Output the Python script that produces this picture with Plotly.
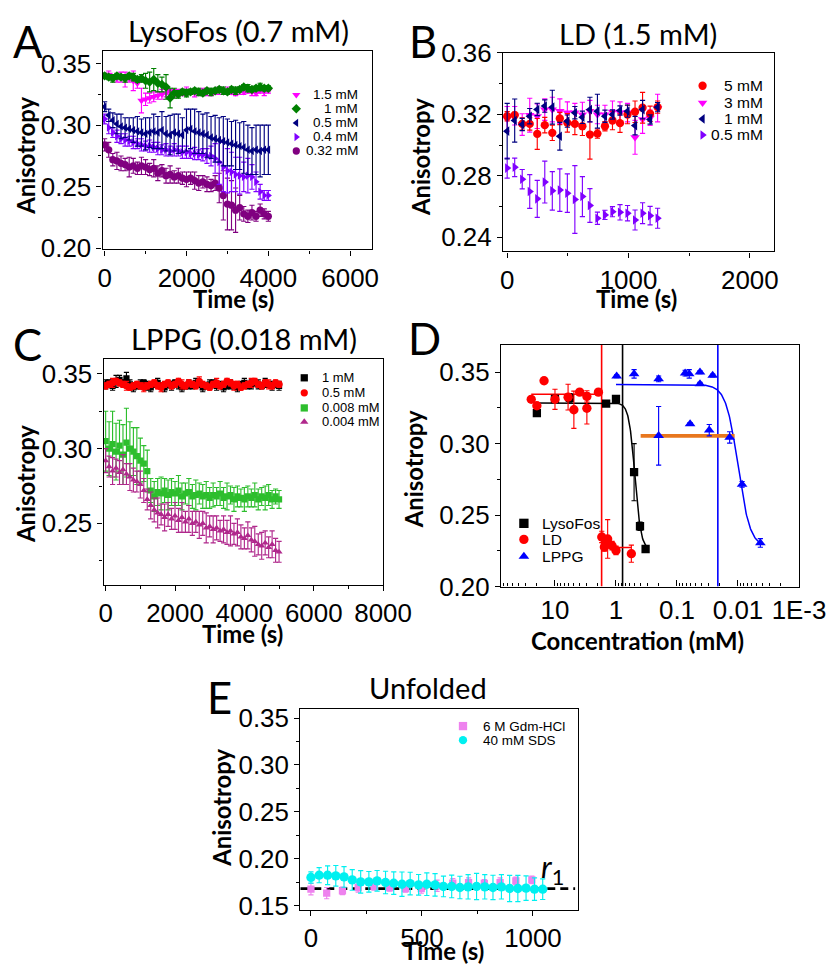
import numpy as np
import plotly.graph_objects as go

W, H = 828, 966

# ---------------- Panel A : LysoFos (0.7 mM) ----------------
A_TIME = list(range(0, 4100, 100))
A_LABELS = ["1.5 mM", "1 mM", "0.5 mM", "0.4 mM", "0.32 mM"]
A_15 = [0.340, 0.341, 0.339, 0.338, 0.339, 0.337, 0.338, 0.336, 0.334,
        0.320, 0.321, 0.322, 0.323, 0.324, 0.325, 0.326,
        0.327, 0.326, 0.327, 0.326, 0.328, 0.327, 0.326, 0.327, 0.328, 0.327,
        0.326, 0.327, 0.328, 0.327, 0.328, 0.327, 0.326, 0.328, 0.327, 0.328,
        0.327, 0.326, 0.328, 0.327, 0.328]
A_15_ERR = [0.002, 0.003, 0.002, 0.003, 0.004, 0.006, 0.003, 0.008, 0.004,
            0.010, 0.005, 0.004, 0.004, 0.003, 0.004, 0.003,
            0.002, 0.003, 0.002, 0.002, 0.003, 0.002, 0.003, 0.002, 0.002, 0.003,
            0.002, 0.002, 0.003, 0.002, 0.003, 0.002, 0.002, 0.003, 0.002, 0.002,
            0.003, 0.002, 0.002, 0.003, 0.002]
A_1 = [0.340, 0.339, 0.338, 0.340, 0.339, 0.338, 0.340, 0.339, 0.337, 0.338,
       0.336, 0.335, 0.337, 0.334, 0.333, 0.331,
       0.322, 0.326,
       0.325, 0.327, 0.326, 0.327, 0.328, 0.327, 0.326, 0.328, 0.327, 0.328,
       0.329, 0.328, 0.327, 0.329, 0.328, 0.329, 0.331, 0.330, 0.329, 0.330,
       0.331, 0.330, 0.330]
A_1_ERR = [0.002, 0.002, 0.003, 0.002, 0.002, 0.003, 0.002, 0.003, 0.002, 0.003,
           0.006, 0.008, 0.009, 0.007, 0.006, 0.010,
           0.008, 0.004,
           0.003, 0.002, 0.003, 0.002, 0.002, 0.003, 0.002, 0.002, 0.003, 0.002,
           0.002, 0.003, 0.002, 0.002, 0.003, 0.002, 0.002, 0.003, 0.002, 0.002,
           0.003, 0.002, 0.002]
A_05 = [0.315, 0.308, 0.304, 0.301, 0.299, 0.298, 0.297, 0.296, 0.295, 0.294,
        0.293, 0.294, 0.295, 0.294, 0.296, 0.293, 0.292, 0.294, 0.293, 0.292,
        0.296, 0.297, 0.295, 0.294, 0.293, 0.292, 0.290, 0.289, 0.288, 0.287,
        0.286, 0.285, 0.284, 0.283, 0.282, 0.280, 0.279, 0.280, 0.279, 0.280,
        0.280]
A_05_ERR = [0.004, 0.005, 0.006, 0.008, 0.010, 0.008, 0.009, 0.010, 0.012, 0.011,
            0.013, 0.012, 0.014, 0.013, 0.015, 0.014, 0.016, 0.015, 0.016, 0.014,
            0.017, 0.016, 0.018, 0.017, 0.016, 0.018, 0.017, 0.019, 0.018, 0.020,
            0.019, 0.018, 0.020, 0.019, 0.021, 0.020, 0.019, 0.020, 0.021, 0.020,
            0.020]
A_04 = [0.305, 0.298, 0.294, 0.291, 0.289, 0.288, 0.287, 0.286, 0.285, 0.284,
        0.283, 0.283, 0.282, 0.281, 0.280, 0.280, 0.279, 0.280, 0.279, 0.278,
        0.278, 0.277, 0.277, 0.276, 0.276, 0.275, 0.275, 0.273, 0.270, 0.266,
        0.263, 0.262, 0.260, 0.259, 0.258, 0.259, 0.258, 0.254, 0.246, 0.243,
        0.243]
A_04_ERR = [0.004, 0.005, 0.004, 0.005, 0.004, 0.005, 0.004, 0.005, 0.004, 0.005,
            0.004, 0.005, 0.004, 0.005, 0.004, 0.005, 0.004, 0.005, 0.004, 0.005,
            0.005, 0.004, 0.005, 0.004, 0.005, 0.006, 0.008, 0.012, 0.018, 0.020,
            0.018, 0.016, 0.014, 0.015, 0.012, 0.014, 0.010, 0.008, 0.006, 0.004,
            0.004]
A_032 = [0.284, 0.280, 0.272, 0.271, 0.269, 0.268, 0.266, 0.267, 0.265, 0.267,
         0.266, 0.264, 0.265, 0.261, 0.263, 0.259, 0.260, 0.258, 0.259, 0.257,
         0.256, 0.257, 0.255, 0.253, 0.254, 0.252, 0.251, 0.253, 0.249, 0.243,
         0.236, 0.235, 0.231, 0.233, 0.228, 0.226, 0.229, 0.226, 0.231, 0.228,
         0.226]
A_032_ERR = [0.005, 0.006, 0.005, 0.007, 0.006, 0.005, 0.008, 0.006, 0.005, 0.007,
             0.006, 0.005, 0.007, 0.006, 0.005, 0.006, 0.007, 0.005, 0.006, 0.005,
             0.006, 0.005, 0.007, 0.006, 0.005, 0.006, 0.005, 0.006, 0.012, 0.020,
             0.021, 0.020, 0.018, 0.010, 0.006, 0.005, 0.006, 0.004, 0.005, 0.004,
             0.004]

# ---------------- Panel B : LD (1.5 mM) ----------------
B_TIME = list(range(0, 1241, 62))
B_LABELS = ["5 mM", "3 mM", "1 mM", "0.5 mM"]
B_5 = [0.3187, 0.3194, 0.3137, 0.3137, 0.3072, 0.3129, 0.3079, 0.3172, 0.3144, 0.3137,
       0.3122, 0.3068, 0.3074, 0.3122, 0.3159, 0.3142, 0.3198, 0.3216, 0.3242, 0.3203, 0.3246]
B_5_ERR = [0.003, 0.002, 0.004, 0.004, 0.010, 0.005, 0.005, 0.004, 0.006, 0.007,
           0.006, 0.016, 0.003, 0.003, 0.006, 0.006, 0.006, 0.007, 0.010, 0.005, 0.004]
B_3 = [0.317, 0.319, 0.3133, 0.3194, 0.3187, 0.323, 0.323, 0.322, 0.321, 0.321,
       0.3198, 0.322, 0.3198, 0.3198, 0.3216, 0.321, 0.321, 0.305, 0.3166, 0.3177, 0.324]
B_3_ERR = [0.008, 0.006, 0.007, 0.011, 0.008, 0.007, 0.008, 0.008, 0.007, 0.006,
           0.008, 0.007, 0.006, 0.006, 0.007, 0.007, 0.006, 0.011, 0.009, 0.005, 0.009]
B_1 = [0.309, 0.3159, 0.3133, 0.3187, 0.3231, 0.3253, 0.3246, 0.3057, 0.3155, 0.321,
       0.318, 0.323, 0.322, 0.3187, 0.3198, 0.3224, 0.322, 0.3126, 0.323, 0.3166, 0.3246]
B_1_ERR = [0.018, 0.014, 0.004, 0.005, 0.004, 0.004, 0.011, 0.009, 0.004, 0.004,
           0.004, 0.008, 0.011, 0.004, 0.003, 0.003, 0.004, 0.006, 0.006, 0.003, 0.003]
B_05 = [0.2850, 0.2855, 0.2778, 0.2698, 0.2650, 0.2759, 0.2702, 0.2707, 0.2687, 0.2646,
        0.2665, 0.2607, 0.2524, 0.2546, 0.2567, 0.2563, 0.2557, 0.2513, 0.2557, 0.2541, 0.2524]
B_05_ERR = [0.0065, 0.006, 0.0063, 0.011, 0.012, 0.0136, 0.0125, 0.0138, 0.0125, 0.022,
            0.013, 0.011, 0.004, 0.003, 0.0033, 0.005, 0.005, 0.0065, 0.0068, 0.006, 0.0065]

# ---------------- Panel C : LPPG (0.018 mM) ----------------
C_TIME = list(range(0, 5100, 100))
C_LABELS = ["1 mM", "0.5 mM", "0.008 mM", "0.004 mM"]
C_1 = [0.343, 0.344, 0.342, 0.345, 0.346, 0.344, 0.347, 0.343, 0.341, 0.342,
       0.343, 0.344, 0.342, 0.341, 0.343, 0.344, 0.342, 0.341, 0.343, 0.342,
       0.344, 0.343, 0.341, 0.342, 0.343, 0.342, 0.344, 0.343, 0.341, 0.342,
       0.343, 0.344, 0.342, 0.343, 0.341, 0.342, 0.343, 0.342, 0.341, 0.343,
       0.344, 0.342, 0.343, 0.344, 0.343, 0.342, 0.344, 0.343, 0.342, 0.343, 0.342]
C_1_ERR = [0.003, 0.002, 0.003, 0.004, 0.003, 0.002, 0.004, 0.003, 0.003, 0.002,
           0.003, 0.002, 0.003, 0.003, 0.002, 0.003, 0.002, 0.003, 0.002, 0.003,
           0.002, 0.003, 0.003, 0.002, 0.003, 0.002, 0.003, 0.002, 0.003, 0.002,
           0.003, 0.002, 0.003, 0.002, 0.003, 0.002, 0.003, 0.002, 0.003, 0.002,
           0.003, 0.002, 0.003, 0.002, 0.003, 0.002, 0.003, 0.002, 0.003, 0.002, 0.003]
C_05 = [0.342, 0.343, 0.344, 0.345, 0.344, 0.343, 0.342, 0.341, 0.342, 0.343,
        0.342, 0.341, 0.342, 0.343, 0.344, 0.342, 0.341, 0.343, 0.344, 0.342,
        0.343, 0.345, 0.343, 0.342, 0.344, 0.343, 0.342, 0.345, 0.343, 0.342,
        0.341, 0.343, 0.344, 0.342, 0.343, 0.345, 0.344, 0.342, 0.343, 0.341,
        0.342, 0.343, 0.344, 0.345, 0.343, 0.342, 0.344, 0.343, 0.342, 0.344, 0.343]
C_05_ERR = [0.002, 0.002, 0.003, 0.002, 0.002, 0.002, 0.003, 0.002, 0.002, 0.002,
            0.002, 0.003, 0.002, 0.002, 0.002, 0.002, 0.003, 0.002, 0.002, 0.002,
            0.002, 0.002, 0.003, 0.002, 0.002, 0.002, 0.002, 0.003, 0.002, 0.002,
            0.002, 0.002, 0.003, 0.002, 0.002, 0.002, 0.002, 0.003, 0.002, 0.002,
            0.002, 0.002, 0.003, 0.002, 0.002, 0.002, 0.002, 0.003, 0.002, 0.002, 0.002]
C_0008 = [0.305, 0.300, 0.303, 0.298, 0.302, 0.296, 0.304, 0.300, 0.298, 0.295,
          0.292, 0.290, 0.285, 0.272, 0.268, 0.271, 0.270, 0.272, 0.269, 0.271,
          0.270, 0.272, 0.268, 0.270, 0.271, 0.268, 0.269, 0.270, 0.268, 0.269,
          0.267, 0.269, 0.268, 0.270, 0.267, 0.268, 0.269, 0.266, 0.268, 0.267,
          0.266, 0.268, 0.267, 0.269, 0.266, 0.268, 0.267, 0.269, 0.266, 0.268, 0.266]
C_0008_ERR = [0.020, 0.018, 0.022, 0.019, 0.017, 0.020, 0.023, 0.018, 0.016, 0.019,
              0.015, 0.012, 0.014,
              0.008, 0.010, 0.009, 0.011, 0.008, 0.010, 0.009, 0.008, 0.010, 0.009,
              0.007, 0.009, 0.008, 0.010, 0.007, 0.008, 0.009, 0.007, 0.008, 0.006,
              0.008, 0.007, 0.009, 0.006, 0.008, 0.007, 0.006, 0.008, 0.007, 0.006,
              0.008, 0.007, 0.006, 0.008, 0.007, 0.006, 0.005, 0.006]
C_0004 = [0.292, 0.288, 0.285, 0.287, 0.284, 0.286, 0.283, 0.281, 0.279, 0.278,
          0.276, 0.272, 0.266, 0.262, 0.259, 0.257, 0.256, 0.254, 0.256, 0.253,
          0.255, 0.252, 0.254, 0.251, 0.253, 0.250, 0.251, 0.249, 0.250, 0.247,
          0.248, 0.246, 0.247, 0.245, 0.246, 0.244, 0.245, 0.243, 0.244, 0.241,
          0.240, 0.242, 0.239, 0.238, 0.236, 0.235, 0.237, 0.234, 0.236, 0.232, 0.231]
C_0004_ERR = [0.008, 0.007, 0.009, 0.006, 0.008, 0.010, 0.007, 0.009, 0.008, 0.007,
              0.009, 0.008, 0.007, 0.009, 0.008, 0.010, 0.007, 0.009, 0.008, 0.007,
              0.009, 0.008, 0.010, 0.007, 0.009, 0.008, 0.007, 0.009, 0.008, 0.010,
              0.007, 0.009, 0.008, 0.007, 0.009, 0.008, 0.010, 0.007, 0.009, 0.008,
              0.007, 0.009, 0.008, 0.010, 0.007, 0.009, 0.008, 0.007, 0.009, 0.008, 0.007]

# ---------------- Panel D : anisotropy vs concentration ----------------
D_LABELS = ["LysoFos", "LD", "LPPG"]
D_LYSO_C = [19.8, 10.0, 5.7, 1.45, 1.0, 0.505, 0.404, 0.327]
D_LYSO_R = [0.3214, 0.3312, 0.332, 0.328, 0.3312, 0.280, 0.2422, 0.2263]
D_LYSO_ERR = [0.001, 0.002, 0.003, 0.001, 0.001, 0.020, 0.003, 0.002]
D_LD_C = [24.5, 19.8, 15.1, 10.0, 6.1, 4.9, 3.94, 3.0, 3.0, 1.94,
          1.71, 1.55, 1.45, 1.37, 1.16, 1.0, 0.56]
D_LD_R = [0.331, 0.3265, 0.344, 0.331, 0.3325, 0.3237, 0.336, 0.333, 0.3247, 0.336,
          0.2347, 0.2277, 0.2305, 0.2333, 0.2286, 0.2253, 0.223]
D_LD_ERR = [0.001, 0.001, 0.002, 0.007, 0.009, 0.013, 0.001, 0.004, 0.011, 0.001,
            0.004, 0.003, 0.003, 0.0135, 0.003, 0.003, 0.006]
D_LPPG_C = [0.975, 0.505, 0.2, 0.2, 0.0735, 0.063, 0.061, 0.042, 0.042, 0.0296,
            0.026, 0.0137, 0.00857, 0.0043]
D_LPPG_R = [0.3472, 0.3488, 0.3453, 0.3055, 0.3493, 0.3488, 0.3137, 0.350, 0.3418, 0.3094,
            0.3477, 0.3043, 0.2715, 0.2305]
D_LPPG_ERR = [0.001, 0.003, 0.002, 0.0205, 0.002, 0.003, 0.001, 0.001, 0.001, 0.004,
              0.001, 0.004, 0.002, 0.003]
# fitted sigmoid parameters (log10 concentration)
LYSO_FIT = dict(hi=0.3285, lo=0.226, mid=-0.31, w=0.05, start=1.297, end=-0.49)
LPPG_FIT = dict(hi=0.3413, lo=0.2275, mid=-2.0, w=0.1, start=0.0, end=-2.38)
LD_FIT_HIGH, LD_FIT_LOW = 0.3345, 0.2274
LD_FIT_C = [24.5, 1.72, 0.56]
LPPG_MID_LEVEL = 0.3054
LPPG_MID_C = [0.394, 0.01135]
CMC_LD, CMC_LYSO, CMC_LPPG = 1.72, 0.78, 0.0214

# ---------------- Panel E : unfolded ----------------
E_LABELS = ["6 M Gdm-HCl", "40 mM SDS"]
E_GDM_T = [0, 71, 142, 213, 284, 355, 426, 497, 568, 639, 710, 781, 852, 923, 995]
E_GDM = [0.1677, 0.1635, 0.1659, 0.1695, 0.1706, 0.1695, 0.1684, 0.1684, 0.1713, 0.1741,
         0.1748, 0.1738, 0.1748, 0.1766, 0.1776]
E_GDM_ERR = [0.006, 0.006, 0.004, 0.005, 0.004, 0.004, 0.004, 0.005, 0.006, 0.005,
             0.005, 0.004, 0.005, 0.004, 0.004]
E_SDS_T = [0, 37, 75, 112, 149, 186, 224, 261, 298, 336, 373, 410, 447, 485, 522,
           559, 597, 634, 671, 708, 746, 783, 820, 858, 895, 932, 969, 1007, 1044]
E_SDS = [0.1802, 0.1826, 0.1826, 0.1819, 0.1808, 0.1776, 0.1755, 0.1755, 0.1766, 0.1748,
         0.1741, 0.1730, 0.1737, 0.1723, 0.1730, 0.1723, 0.1706, 0.1706, 0.1695, 0.1702,
         0.1706, 0.1702, 0.1695, 0.1702, 0.1684, 0.1684, 0.1688, 0.1677, 0.1677]
E_SDS_ERR = [0.006, 0.008, 0.010, 0.011, 0.011, 0.011, 0.012, 0.011, 0.011, 0.012,
             0.012, 0.013, 0.012, 0.011, 0.012, 0.012, 0.011, 0.012, 0.012, 0.013,
             0.014, 0.013, 0.013, 0.013, 0.014, 0.014, 0.013, 0.012, 0.011]
R1_LEVEL = 0.1684

# ---------------- styling ----------------
TICKF = "Liberation Sans, Arial, sans-serif"
CALF = "Lato, Carlito, Calibri, sans-serif"
MAG, GRN, NAVY, VIO, PUR = "#FF00FF", "#008000", "#000080", "#8000FF", "#800080"
RED, BLK, BLUE, ORANGE = "#FF0000", "#000000", "#0000FF", "#E8771E"
LGRN, RVIO = "#2DBE2D", "#B0288C"
PINK, CYAN = "#EE82EE", "#00F0F0"

# measured mapping of the paper area onto the photographed picture
PX0, PXS = 4.2, 795.4     # picture x = PX0 + PXS * paper_x
PY0, PYS = 16.5, 934.6    # picture y = PY0 + PYS * (1 - paper_y)
K = 1.037                 # size compensation for that mapping


def fx(px):
    return (px - PX0) / PXS


def fy(py):
    return 1 - (py - PY0) / PYS


def pdom(a, b):
    return [max(0.0, fx(a)), min(1.0, fx(b))]


def ydom(top, bottom):
    return [max(0.0, fy(bottom)), min(1.0, fy(top))]


fig = go.Figure()


def series(ax, x, y, err, color, symbol, size, name):
    fig.add_trace(go.Scatter(
        x=x, y=y, mode="markers", name=name, showlegend=False,
        xaxis="x" + ax, yaxis="y" + ax,
        marker=dict(color=color, symbol=symbol, size=size * K, line=dict(width=0)),
        error_y=dict(type="data", array=err, visible=True, color=color,
                     thickness=1.15, width=2.6)))


def line(ax, x, y, color, width, dash="solid"):
    fig.add_trace(go.Scatter(
        x=x, y=y, mode="lines", showlegend=False, hoverinfo="skip",
        xaxis="x" + ax, yaxis="y" + ax,
        line=dict(color=color, width=width, dash=dash)))


# Panel A
series("", A_TIME, A_032, A_032_ERR, PUR, "circle", 7, A_LABELS[4])
series("", A_TIME, A_04, A_04_ERR, VIO, "triangle-right", 7, A_LABELS[3])
series("", A_TIME, A_05, A_05_ERR, NAVY, "triangle-left", 7, A_LABELS[2])
series("", A_TIME, A_15, A_15_ERR, MAG, "triangle-down", 7, A_LABELS[0])
series("", A_TIME, A_1, A_1_ERR, GRN, "diamond", 7, A_LABELS[1])

# Panel B
series("2", B_TIME, B_05, B_05_ERR, VIO, "triangle-right", 8, B_LABELS[3])
series("2", B_TIME, B_3, B_3_ERR, MAG, "triangle-down", 8, B_LABELS[1])
series("2", B_TIME, B_5, B_5_ERR, RED, "circle", 8, B_LABELS[0])
series("2", B_TIME, B_1, B_1_ERR, NAVY, "triangle-left", 8, B_LABELS[2])

# Panel C
series("3", C_TIME, C_0008, C_0008_ERR, LGRN, "square", 6, C_LABELS[2])
series("3", C_TIME, C_0004, C_0004_ERR, RVIO, "triangle-up", 6, C_LABELS[3])
series("3", C_TIME, C_1, C_1_ERR, BLK, "square", 6, C_LABELS[0])
series("3", C_TIME, C_05, C_05_ERR, RED, "circle", 7, C_LABELS[1])

# Panel D
D_YR = [0.20, 0.3692]
line("4", [CMC_LD, CMC_LD], D_YR, RED, 1.6)
line("4", [CMC_LYSO, CMC_LYSO], D_YR, BLK, 1.6)
line("4", [CMC_LPPG, CMC_LPPG], D_YR, BLUE, 1.6)
lc = np.linspace(LYSO_FIT["start"], LYSO_FIT["end"], 300)
line("4", 10 ** lc, LYSO_FIT["lo"] + (LYSO_FIT["hi"] - LYSO_FIT["lo"]) /
     (1 + np.exp((LYSO_FIT["mid"] - lc) / LYSO_FIT["w"])), BLK, 1.5)
pc = np.linspace(LPPG_FIT["start"], LPPG_FIT["end"], 300)
line("4", 10 ** pc, LPPG_FIT["lo"] + (LPPG_FIT["hi"] - LPPG_FIT["lo"]) /
     (1 + np.exp((LPPG_FIT["mid"] - pc) / LPPG_FIT["w"])), BLUE, 1.5)
line("4", [LD_FIT_C[0], LD_FIT_C[1], None, LD_FIT_C[1], LD_FIT_C[2]],
     [LD_FIT_HIGH, LD_FIT_HIGH, None, LD_FIT_LOW, LD_FIT_LOW], RED, 1.5)
line("4", LPPG_MID_C, [LPPG_MID_LEVEL, LPPG_MID_LEVEL], ORANGE, 3.6)
series("4", D_LYSO_C, D_LYSO_R, D_LYSO_ERR, BLK, "square", 8, D_LABELS[0])
series("4", D_LD_C, D_LD_R, D_LD_ERR, RED, "circle", 9, D_LABELS[1])
series("4", D_LPPG_C, D_LPPG_R, D_LPPG_ERR, BLUE, "triangle-up", 9, D_LABELS[2])

# Panel E
line("5", [-48, 1190], [R1_LEVEL, R1_LEVEL], BLK, 2.7, "8px,5px")
series("5", E_GDM_T, E_GDM, E_GDM_ERR, PINK, "square", 7, E_LABELS[0])
series("5", E_SDS_T, E_SDS, E_SDS_ERR, CYAN, "circle", 9, E_LABELS[1])


# ---------------- compact legends (overlay axis in picture pixels) ----------------
LEGENDS = [
    dict(mx=296, tx=360, anchor="right", fs=13, ms=7, rows=[97, 111, 125, 139, 153],
         labels=A_LABELS, colors=[MAG, GRN, NAVY, VIO, PUR],
         symbols=["triangle-down", "diamond", "triangle-left", "triangle-right", "circle"]),
    dict(mx=703, tx=766, anchor="right", fs=15, ms=8, rows=[88, 105, 121, 137],
         labels=B_LABELS, colors=[RED, MAG, NAVY, VIO],
         symbols=["circle", "triangle-down", "triangle-left", "triangle-right"]),
    dict(mx=304, tx=320, anchor="left", fs=12.5, ms=7, rows=[379, 394, 409, 423],
         labels=C_LABELS, colors=[BLK, RED, LGRN, RVIO],
         symbols=["square", "circle", "square", "triangle-up"]),
    dict(mx=524, tx=540, anchor="left", fs=15, ms=9, rows=[524, 540, 557],
         labels=D_LABELS, colors=[BLK, RED, BLUE],
         symbols=["square", "circle", "triangle-up"]),
    dict(mx=463, tx=481, anchor="left", fs=13, ms=8, rows=[726, 740],
         labels=E_LABELS, colors=[PINK, CYAN], symbols=["square", "circle"]),
]

annotations = []
for lg in LEGENDS:
    fig.add_trace(go.Scatter(
        x=[lg["mx"]] * len(lg["rows"]), y=lg["rows"], mode="markers",
        xaxis="x6", yaxis="y6", showlegend=False, hoverinfo="skip",
        marker=dict(color=lg["colors"], symbol=lg["symbols"], size=lg["ms"] * K,
                    line=dict(width=0))))
    for yy, lab in zip(lg["rows"], lg["labels"]):
        annotations.append(dict(
            text=lab, x=fx(lg["tx"]), y=fy(yy), xref="paper", yref="paper",
            xanchor=lg["anchor"], yanchor="middle", showarrow=False,
            font=dict(family=TICKF, size=lg["fs"] * K, color="black")))


def ann(text, x, y, size, bold=False, angle=0, family=CALF):
    annotations.append(dict(
        text=("<b>%s</b>" % text) if bold else text, x=fx(x), y=fy(y),
        xref="paper", yref="paper", xanchor="center", yanchor="middle",
        showarrow=False, textangle=angle,
        font=dict(family=family, size=size * K, color="black")))


# panel letters
for letter, lx, ly in [("A", 27, 43), ("B", 423, 43), ("C", 27, 345),
                       ("D", 424, 339), ("E", 219, 697)]:
    ann(letter, lx, ly, 42)
# titles
ann("LysoFos (0.7 mM)", 238, 33, 28)
ann("LD (1.5 mM)", 638, 36, 28)
ann("LPPG (0.018 mM)", 244, 340, 28)
ann("Unfolded", 428, 688, 28)
# axis titles
for tx, ty in [(24, 158), (420, 159), (24, 485), (413, 470), (221, 807)]:
    ann("Anisotropy", tx, ty, 23, bold=True, angle=-90)
for tx, ty in [(233, 300), (637, 300), (242, 634), (443, 950)]:
    ann("Time (s)", tx, ty, 23, bold=True)
ann("Concentration (mM)", 638, 641, 23, bold=True)
ann("<i>r</i><sub>1</sub>", 553, 868, 30)


def axstyle(**kw):
    d = dict(showline=True, mirror=True, linecolor="black", linewidth=1.35,
             ticks="outside", ticklen=5, tickwidth=1.2, tickcolor="black",
             showgrid=False, zeroline=False, fixedrange=True,
             tickfont=dict(family=TICKF, size=25 * K, color="black"),
             minor=dict(ticks="outside", ticklen=3, tickwidth=1, tickcolor="black",
                        showgrid=False))
    for k, v in kw.items():
        if k == "minor":
            d["minor"].update(v)
        else:
            d[k] = v
    return d


MINOR_LOG = [m * 10 ** k for k in range(-3, 2) for m in range(2, 10)]

fig.update_layout(
    width=W, height=H, autosize=False,
    margin=dict(l=0, r=0, t=0, b=0),
    paper_bgcolor="white", plot_bgcolor="rgba(0,0,0,0)",
    showlegend=False,
    annotations=annotations,
    # A
    xaxis=axstyle(domain=pdom(102, 372), anchor="y", range=[-49, 6537],
                  tick0=0, dtick=2000, minor=dict(dtick=1000)),
    yaxis=axstyle(domain=ydom(53, 251), anchor="x", range=[0.1992, 0.3605],
                  tick0=0.2, dtick=0.05, tickformat=".2f", minor=dict(dtick=0.025)),
    # B
    xaxis2=axstyle(domain=pdom(503, 775), anchor="y2", range=[-35, 2203],
                   tick0=0, dtick=1000, minor=dict(dtick=500)),
    yaxis2=axstyle(domain=ydom(55, 253), anchor="x2", range=[0.2309, 0.3600],
                   tick0=0.24, dtick=0.04, tickformat=".2f", minor=dict(dtick=0.02)),
    # C
    xaxis3=axstyle(domain=pdom(103, 383), anchor="y3", range=[-58, 8001],
                   tick0=0, dtick=2000, minor=dict(dtick=1000)),
    yaxis3=axstyle(domain=ydom(360, 585), anchor="x3", range=[0.2091, 0.3601],
                   tick0=0.25, dtick=0.05, tickformat=".2f", minor=dict(dtick=0.025)),
    # D
    xaxis4=axstyle(domain=pdom(501, 800), anchor="y4", type="log",
                   range=[1.886, -3], tickvals=[10, 1, 0.1, 0.01, 0.001],
                   ticktext=["10", "1", "0.1", "0.01", "1E-3"],
                   ticks="inside", ticklen=6,
                   minor=dict(tickvals=MINOR_LOG, ticks="inside", ticklen=3)),
    yaxis4=axstyle(domain=ydom(346, 587), anchor="x4", range=[0.20, 0.3692],
                   tick0=0.2, dtick=0.05, tickformat=".2f", minor=dict(dtick=0.025)),
    # E
    xaxis5=axstyle(domain=pdom(300, 578), anchor="y5", range=[-48, 1202],
                   tick0=0, dtick=500, minor=dict(dtick=250)),
    yaxis5=axstyle(domain=ydom(709, 909), anchor="x5", range=[0.1458, 0.3596],
                   tick0=0.15, dtick=0.05, tickformat=".2f", minor=dict(dtick=0.025)),
    # overlay axis spanning the paper, in picture pixels, for the legends
    xaxis6=dict(domain=[0, 1], anchor="y6", range=[PX0, PX0 + PXS],
                visible=False, fixedrange=True),
    yaxis6=dict(domain=[0, 1], anchor="x6", range=[PY0 + PYS, PY0],
                visible=False, fixedrange=True),
)

fig.write_html(
    "out.html",
    config={"displayModeBar": False},
    post_script="document.body.style.margin='0px';document.body.style.overflow='hidden';",
)
